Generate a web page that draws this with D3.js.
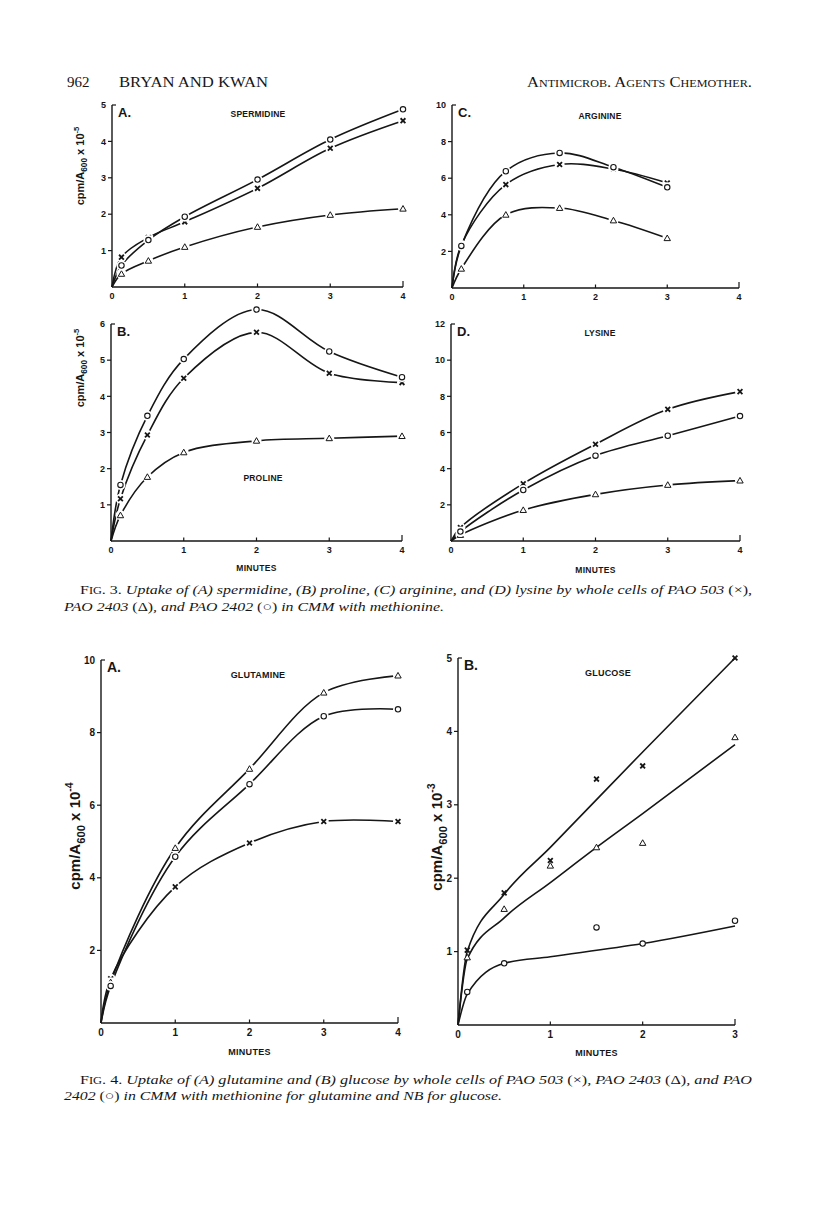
<!DOCTYPE html>
<html>
<head>
<meta charset="utf-8">
<script src="https://cdn.jsdelivr.net/npm/d3@7"></script>
<style>
  html, body { margin: 0; padding: 0; background: #fff; }
  svg { display: block; }
</style>
</head>
<body>
<svg id="page" width="816" height="1210"></svg>
<script>
// ---------------- DATA ----------------
// Fig. 3A spermidine
const minutesSpd = [0.13, 0.5, 1, 2, 3, 4];
const spermidine503  = [0.82, 1.36, 1.79, 2.71, 3.81, 4.57];
const spermidine2403 = [0.36, 0.72, 1.10, 1.65, 1.98, 2.15];
const spermidine2402 = [0.59, 1.29, 1.93, 2.95, 4.05, 4.88];
// Fig. 3B proline
const minutesPro = [0.13, 0.5, 1, 2, 3, 4];
const proline503  = [1.17, 2.93, 4.50, 5.77, 4.64, 4.38];
const proline2403 = [0.71, 1.77, 2.45, 2.77, 2.84, 2.90];
const proline2402 = [1.55, 3.46, 5.03, 6.40, 5.24, 4.53];
// Fig. 3C arginine
const minutesArg = [0.13, 0.75, 1.5, 2.25, 3];
const arginine503  = [2.35, 5.65, 6.75, 6.50, 5.74];
const arginine2403 = [1.05, 4.00, 4.37, 3.69, 2.72];
const arginine2402 = [2.30, 6.38, 7.38, 6.60, 5.50];
// Fig. 3D lysine
const minutesLys = [0.13, 1, 2, 3, 4];
const lysine503  = [0.74, 3.17, 5.35, 7.28, 8.26];
const lysine2403 = [0.33, 1.71, 2.58, 3.10, 3.34];
const lysine2402 = [0.52, 2.82, 4.72, 5.82, 6.91];
// Fig. 4A glutamine
const minutesGln = [0.13, 1, 2, 3, 4];
const glutamine503  = [1.22, 3.75, 4.96, 5.55, 5.55];
const glutamine2403 = [1.12, 4.82, 7.00, 9.10, 9.57];
const glutamine2402 = [1.02, 4.58, 6.58, 8.45, 8.64];
// Fig. 4B glucose (points)
const minutesGlc = [0.1, 0.5, 1, 1.5, 2, 3];
const glucose503  = [1.02, 1.80, 2.24, 3.35, 3.53, 5.00];
const glucose2403 = [0.92, 1.58, 2.17, 2.42, 2.48, 3.92];
const minutesGlc2402 = [0.1, 0.5, 1.5, 2, 3];
const glucose2402 = [0.45, 0.84, 1.33, 1.11, 1.42];
// Fig. 4B glucose (drawn fit lines)
const fitMinutes503  = [0, 0.1, 0.5, 1, 2, 3];
const fitGlucose503  = [0, 1.00, 1.78, 2.42, 3.72, 5.00];
const fitMinutes2403 = [0, 0.1, 0.5, 1, 1.5, 2, 3];
const fitGlucose2403 = [0, 0.90, 1.46, 1.94, 2.42, 2.88, 3.82];
const fitMinutes2402 = [0, 0.1, 0.5, 1, 2, 3];
const fitGlucose2402 = [0, 0.42, 0.84, 0.93, 1.11, 1.35];

// tick labels
const xTicks4 = [0, 1, 2, 3, 4];
const xTicks3 = [0, 1, 2, 3];
const yTicksSpd = [1, 2, 3, 4, 5];
const yTicksPro = [1, 2, 3, 4, 5, 6];
const yTicksArg = [2, 4, 6, 8, 10];
const yTicksLys = [2, 4, 6, 8, 10, 12];
const yTicksGln = [2, 4, 6, 8, 10];
const yTicksGlc = [1, 2, 3, 4, 5];

// ---------------- DRAWING ----------------
const svg = d3.select("#page");
const INK = "#161616";
const SANS = "'Liberation Sans', Arial, Helvetica, sans-serif";
const SERIF = "'Liberation Serif', 'Times New Roman', serif";

function zip(xs, ys) { return xs.map((x, i) => [x, ys[i]]); }

function marker(g, type, x, y, halo) {
  if (halo) g.append("circle").attr("cx", x).attr("cy", y).attr("r", 5).attr("fill", "#fff");
  if (type === "o") {
    g.append("circle").attr("cx", x).attr("cy", y).attr("r", 2.7)
      .attr("fill", "#fff").attr("stroke", INK).attr("stroke-width", 1.1);
  } else if (type === "x") {
    const s = 2.4;
    g.append("path").attr("d", `M${x-s},${y-s}L${x+s},${y+s}M${x-s},${y+s}L${x+s},${y-s}`)
      .attr("stroke", INK).attr("stroke-width", 1.8).attr("fill", "none");
  } else {
    const s = 3.2;
    g.append("path").attr("d", `M${x},${y-s}L${x+s},${y+s*0.75}L${x-s},${y+s*0.75}Z`)
      .attr("stroke", INK).attr("stroke-width", 1.0).attr("fill", "#fff");
  }
}

function drawPanel(cfg) {
  const g = svg.append("g");
  const x = d3.scaleLinear().domain(cfg.xDomain).range(cfg.xRange);
  const y = d3.scaleLinear().domain(cfg.yDomain).range(cfg.yRange);
  const x0 = x(0), y0 = y(0);
  const fs = cfg.tickSize;

  // axes
  g.append("line").attr("x1", x0).attr("x2", x0).attr("y1", y0).attr("y2", y(cfg.yDomain[1]))
    .attr("stroke", INK).attr("stroke-width", 1.4);
  g.append("line").attr("x1", x0).attr("x2", x(cfg.xDomain[1])).attr("y1", y0).attr("y2", y0)
    .attr("stroke", INK).attr("stroke-width", 1.4);
  // y ticks
  cfg.yTicks.forEach((t, i) => {
    const yy = y(t);
    const top = i === cfg.yTicks.length - 1;
    g.append("line").attr("x1", x0).attr("x2", top ? x0 + 4 : x0 - 4).attr("y1", yy).attr("y2", yy)
      .attr("stroke", INK).attr("stroke-width", 1.2);
    g.append("text").attr("x", x0 - 6).attr("y", yy + fs * 0.36).attr("text-anchor", "end")
      .attr("font-family", SANS).attr("font-weight", 700).attr("font-size", fs).attr("fill", INK)
      .text(t);
  });
  // x ticks
  cfg.xTicks.forEach((t, i) => {
    const xx = x(t);
    if (t !== 0) {
      const last = i === cfg.xTicks.length - 1;
      g.append("line").attr("x1", xx).attr("x2", xx).attr("y1", y0).attr("y2", y0 - (last ? 6 : 3.5))
        .attr("stroke", INK).attr("stroke-width", 1.2);
    }
    g.append("text").attr("x", xx).attr("y", y0 + fs + 3).attr("text-anchor", "middle")
      .attr("font-family", SANS).attr("font-weight", 700).attr("font-size", fs).attr("fill", INK)
      .text(t);
  });

  // lines
  const line = d3.line().x(d => x(d[0])).y(d => y(d[1])).curve(cfg.curve || d3.curveCatmullRom.alpha(0.5));
  cfg.lines.forEach(L => {
    g.append("path").attr("d", line(L)).attr("fill", "none")
      .attr("stroke", INK).attr("stroke-width", 1.6).attr("stroke-linejoin", "round");
  });
  // markers
  cfg.series.forEach(s => {
    s.pts.forEach(p => marker(g, s.type, x(p[0]), y(p[1]), cfg.halo));
  });

  // labels
  g.append("text").attr("x", x0 + cfg.letterDx).attr("y", y(cfg.yDomain[1]) + cfg.letterDy)
    .attr("font-family", SANS).attr("font-weight", 700).attr("font-size", cfg.letterSize).attr("fill", INK)
    .text(cfg.letter);
  g.append("text").attr("x", cfg.titleX).attr("y", cfg.titleY).attr("text-anchor", "middle")
    .attr("font-family", SANS).attr("font-weight", 700).attr("font-size", cfg.titleSize).attr("fill", INK)
    .attr("letter-spacing", 0.2).text(cfg.title);
  if (cfg.minutes) {
    g.append("text").attr("x", (x0 + x(cfg.xDomain[1])) / 2).attr("y", cfg.minutesY).attr("text-anchor", "middle")
      .attr("font-family", SANS).attr("font-weight", 700).attr("font-size", cfg.titleSize).attr("fill", INK)
      .attr("letter-spacing", 0.3).text("MINUTES");
  }
  if (cfg.yLabel) {
    const t = g.append("text").attr("transform", `translate(${cfg.yLabelX},${cfg.yLabelY}) rotate(-90)`)
      .attr("text-anchor", "middle").attr("font-family", SANS).attr("font-weight", 700)
      .attr("font-size", cfg.yLabelSize).attr("fill", INK);
    t.append("tspan").text("cpm/A");
    t.append("tspan").attr("font-size", cfg.yLabelSize * 0.75).attr("dy", cfg.yLabelSize * 0.3).text("600");
    t.append("tspan").attr("dy", -cfg.yLabelSize * 0.3).text(" x 10");
    t.append("tspan").attr("font-size", cfg.yLabelSize * 0.7).attr("dy", -cfg.yLabelSize * 0.45).text(cfg.yExp);
  }
}

function three(xs, a, b, c) {
  return {
    lines: [[[0, 0], ...zip(xs, a)], [[0, 0], ...zip(xs, b)], [[0, 0], ...zip(xs, c)]],
    series: [{ type: "x", pts: zip(xs, a) }, { type: "t", pts: zip(xs, b) }, { type: "o", pts: zip(xs, c) }]
  };
}

const base3 = { tickSize: 9, letterSize: 13, titleSize: 8.5, halo: true, letterDx: 6, letterDy: 12 };

drawPanel(Object.assign({}, base3, three(minutesSpd, spermidine503, spermidine2403, spermidine2402), {
  xDomain: [0, 4], yDomain: [0, 5], xRange: [112, 403], yRange: [287, 105],
  xTicks: xTicks4, yTicks: yTicksSpd, letter: "A.", title: "SPERMIDINE", titleX: 258, titleY: 117,
  yLabel: true, yLabelX: 84, yLabelY: 166, yLabelSize: 11, yExp: "-5"
}));
drawPanel(Object.assign({}, base3, three(minutesArg, arginine503, arginine2403, arginine2402), {
  xDomain: [0, 4], yDomain: [0, 10], xRange: [452, 739], yRange: [288, 105],
  xTicks: xTicks4, yTicks: yTicksArg, letter: "C.", title: "ARGININE", titleX: 600, titleY: 119
}));
drawPanel(Object.assign({}, base3, three(minutesPro, proline503, proline2403, proline2402), {
  xDomain: [0, 4], yDomain: [0, 6], xRange: [111, 402], yRange: [541, 324],
  xTicks: xTicks4, yTicks: yTicksPro, letter: "B.", title: "PROLINE", titleX: 263, titleY: 481,
  minutes: true, minutesY: 571,
  yLabel: true, yLabelX: 84, yLabelY: 368, yLabelSize: 11, yExp: "-5"
}));
drawPanel(Object.assign({}, base3, three(minutesLys, lysine503, lysine2403, lysine2402), {
  xDomain: [0, 4], yDomain: [0, 12], xRange: [451, 740], yRange: [541, 324],
  xTicks: xTicks4, yTicks: yTicksLys, letter: "D.", title: "LYSINE", titleX: 600, titleY: 336,
  minutes: true, minutesY: 573
}));
drawPanel(Object.assign({}, base3, three(minutesGln, glutamine503, glutamine2403, glutamine2402), {
  tickSize: 10, letterSize: 14, titleSize: 9,
  xDomain: [0, 4], yDomain: [0, 10], xRange: [101, 398], yRange: [1023, 660],
  xTicks: xTicks4, yTicks: yTicksGln, letter: "A.", title: "GLUTAMINE", titleX: 258, titleY: 678,
  minutes: true, minutesY: 1055,
  yLabel: true, yLabelX: 80, yLabelY: 836, yLabelSize: 15, yExp: "-4"
}));
drawPanel(Object.assign({}, base3, {
  tickSize: 10, letterSize: 14, titleSize: 9, halo: false, curve: d3.curveMonotoneX,
  lines: [zip(fitMinutes503, fitGlucose503), zip(fitMinutes2403, fitGlucose2403), zip(fitMinutes2402, fitGlucose2402)],
  series: [{ type: "x", pts: zip(minutesGlc, glucose503) }, { type: "t", pts: zip(minutesGlc, glucose2403) },
           { type: "o", pts: zip(minutesGlc2402, glucose2402) }],
  xDomain: [0, 3], yDomain: [0, 5], xRange: [458, 735], yRange: [1025, 658],
  xTicks: xTicks3, yTicks: yTicksGlc, letter: "B.", title: "GLUCOSE", titleX: 608, titleY: 676,
  minutes: true, minutesY: 1056,
  yLabel: true, yLabelX: 442, yLabelY: 837, yLabelSize: 15, yExp: "-3"
}));

// ---------------- PAGE TEXT ----------------
function serif(x, y, size) {
  return svg.append("text").attr("x", x).attr("y", y).attr("font-family", SERIF)
    .attr("font-size", size).attr("fill", INK);
}
serif(67, 87, 15).text("962");
serif(119, 87, 15).attr("textLength", 149).attr("lengthAdjust", "spacingAndGlyphs").text("BRYAN AND KWAN");
serif(527, 87, 15).attr("font-variant", "small-caps").attr("textLength", 225)
  .attr("lengthAdjust", "spacingAndGlyphs").text("Antimicrob. Agents Chemother.");

function caption(x, y, len, parts) {
  const t = serif(x, y, 13).attr("textLength", len).attr("lengthAdjust", "spacingAndGlyphs");
  parts.forEach(p => {
    const s = t.append("tspan").text(p[0]);
    if (p[1] === "i") s.attr("font-style", "italic");
    if (p[1] === "sc") s.attr("font-size", 10);
  });
}
caption(80, 594, 672, [["F", ""], ["IG", "sc"], [". 3. ", ""],
  ["Uptake of (A) spermidine, (B) proline, (C) arginine, and (D) lysine by whole cells of PAO 503 ", "i"], ["(×),", ""]]);
caption(64, 611, 380, [["PAO 2403 ", "i"], ["(Δ)", ""], [", and PAO 2402 ", "i"], ["(○)", ""], [" in CMM with methionine.", "i"]]);
caption(80, 1084, 672, [["F", ""], ["IG", "sc"], [". 4. ", ""],
  ["Uptake of (A) glutamine and (B) glucose by whole cells of PAO 503 ", "i"], ["(×)", ""], [", PAO 2403 ", "i"], ["(Δ)", ""], [", and PAO", "i"]]);
caption(64, 1100, 438, [["2402 ", "i"], ["(○)", ""], [" in CMM with methionine for glutamine and NB for glucose.", "i"]]);
</script>
</body>
</html>
